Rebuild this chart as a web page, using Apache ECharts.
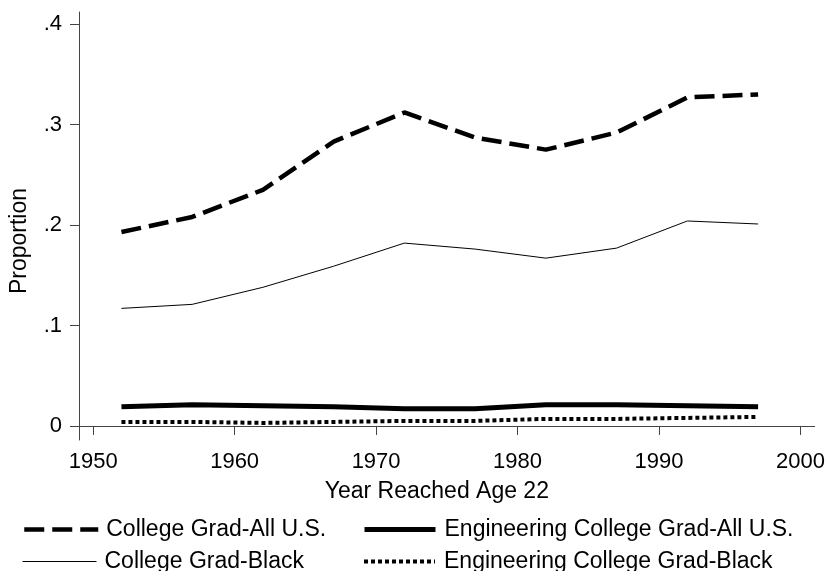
<!DOCTYPE html>
<html>
<head>
<meta charset="utf-8">
<script src="https://cdn.jsdelivr.net/npm/echarts@6/dist/echarts.min.js"></script>
<style>
  html, body { margin: 0; padding: 0; background: #fff; }
  #chart { width: 828px; height: 571px; }
</style>
</head>
<body>
<div id="chart"></div>
<script>
// 年份（到达22岁的年份）
const years = [1952, 1957, 1962, 1967, 1972, 1977, 1982, 1987, 1992, 1997]
const xTicks = [1950, 1960, 1970, 1980, 1990, 2000]
const yTicks = [0, 0.1, 0.2, 0.3, 0.4]
// 各序列数值
const gradAll = [0.193, 0.208, 0.235, 0.283, 0.312, 0.287, 0.275, 0.292, 0.327, 0.330]
const gradBlack = [0.117, 0.121, 0.138, 0.159, 0.182, 0.176, 0.167, 0.177, 0.204, 0.201]
const engAll = [0.019, 0.021, 0.020, 0.019, 0.017, 0.017, 0.021, 0.021, 0.020, 0.019]
const engBlack = [0.004, 0.004, 0.003, 0.004, 0.005, 0.005, 0.007, 0.007, 0.008, 0.009]

const font = 'Liberation Sans'

function pairs (vals) {
  return years.map((y, i) => [y, vals[i]])
}

const styles = {
  'College Grad-All U.S.': {width: 4.5, type: [20, 8]},
  'College Grad-Black': {width: 1, type: 'solid'},
  'Engineering College Grad-All U.S.': {width: 5, type: 'solid'},
  'Engineering College Grad-Black': {width: 4, type: [4, 3]}
}

function makeSeries (name, vals) {
  return {
    name: name,
    type: 'line',
    data: pairs(vals),
    symbol: 'none',
    lineStyle: {color: '#000', width: styles[name].width, type: styles[name].type, cap: 'butt'},
    itemStyle: {color: '#000'},
    silent: true,
    animation: false
  }
}

// 每个图例单独一个，按位置摆放
function legendOne (name, left, top, iconW, gap) {
  return {
    left: left,
    top: top,
    itemWidth: iconW,
    itemHeight: 24,
    padding: 0,
    selectedMode: false,
    textStyle: {fontFamily: font, fontSize: 23, color: '#000', padding: [0, 0, 0, gap]},
    itemStyle: {opacity: 0},
    lineStyle: {color: '#000', width: styles[name].width, type: styles[name].type, cap: 'butt', opacity: 1},
    data: [{name: name}]
  }
}

const option = {
  backgroundColor: '#fff',
  animation: false,
  grid: {left: 78, right: 11, top: 12, bottom: 131},
  legend: [
    legendOne('College Grad-All U.S.', 22, 518, 74, 3),
    legendOne('College Grad-Black', 22, 550, 74, 3),
    legendOne('Engineering College Grad-All U.S.', 362, 518, 71, 4),
    legendOne('Engineering College Grad-Black', 362, 550, 71, 4)
  ],
  xAxis: {
    type: 'value',
    min: 1949,
    max: 2001,
    name: 'Year Reached Age 22',
    nameLocation: 'middle',
    nameGap: 40,
    nameTextStyle: {fontFamily: font, fontSize: 23, color: '#000', padding: [0, 20, 0, 0]},
    axisLine: {lineStyle: {color: '#444', width: 1}},
    axisTick: {show: true, length: 9, customValues: xTicks, lineStyle: {color: '#444'}},
    axisLabel: {
      customValues: xTicks,
      margin: 11,
      fontFamily: font,
      fontSize: 22,
      color: '#000',
      formatter: function (v) {
        return String(v)
      }
    },
    splitLine: {show: false}
  },
  yAxis: {
    type: 'value',
    min: -0.014,
    max: 0.412,
    name: 'Proportion',
    nameLocation: 'middle',
    nameGap: 48,
    nameTextStyle: {fontFamily: font, fontSize: 23, color: '#000', padding: [0, 30, 0, 0]},
    axisLine: {show: true, lineStyle: {color: '#444', width: 1}},
    axisTick: {show: true, length: 9, customValues: yTicks, lineStyle: {color: '#444'}},
    axisLabel: {
      customValues: yTicks,
      margin: 17,
      fontFamily: font,
      fontSize: 22,
      color: '#000',
      formatter: function (v) {
        return v === 0 ? '0' : String(Math.round(v * 10) / 10).replace('0.', '.')
      }
    },
    splitLine: {show: false}
  },
  series: [
    makeSeries('College Grad-All U.S.', gradAll),
    makeSeries('College Grad-Black', gradBlack),
    makeSeries('Engineering College Grad-All U.S.', engAll),
    makeSeries('Engineering College Grad-Black', engBlack)
  ]
}

const myChart = echarts.init(document.getElementById('chart'))
myChart.setOption(option)
</script>
</body>
</html>
